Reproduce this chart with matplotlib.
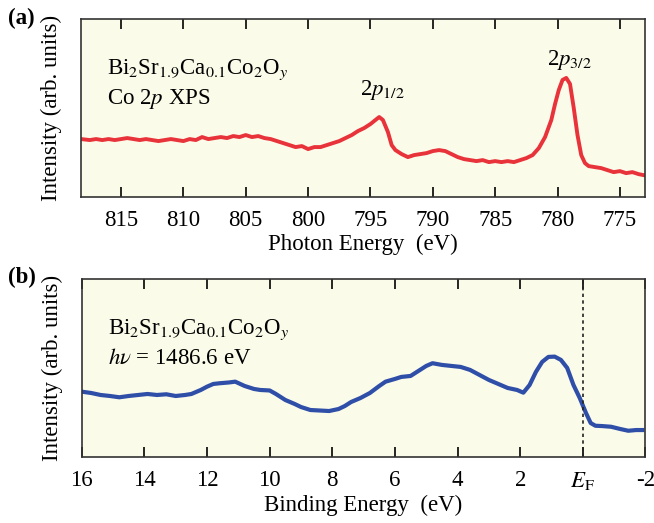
import numpy as np
import matplotlib.pyplot as plt

plt.rcParams['font.family'] = 'Liberation Serif'
plt.rcParams['mathtext.fontset'] = 'stix'
plt.rcParams['font.size'] = 16.5

# Co 2p core level, photon energy (eV) vs intensity (arb.)
co2p_energy = [818.2, 817.5, 817.0, 816.5, 816.0, 815.5, 815.0, 814.5, 814.0, 813.5,
               813.0, 812.5, 812.0, 811.5, 811.0, 810.5, 810.0, 809.5, 809.0, 808.5,
               808.0, 807.5, 807.0, 806.5, 806.0, 805.5, 805.0, 804.5, 804.0, 803.5,
               803.0, 802.5, 802.0, 801.5, 801.0, 800.5, 800.0, 799.5, 799.0, 798.5,
               798.0, 797.5, 797.0, 796.5, 796.0, 795.5, 795.0, 794.6, 794.3, 794.0,
               793.6, 793.3, 793.0, 792.5, 792.0, 791.5, 791.0, 790.5, 790.0, 789.5,
               789.0, 788.5, 788.0, 787.5, 787.0, 786.5, 786.0, 785.5, 785.0, 784.5,
               784.0, 783.5, 783.0, 782.5, 782.0, 781.5, 781.0, 780.5, 780.2, 779.9,
               779.6, 779.3, 779.0, 778.7, 778.4, 778.1, 777.8, 777.5, 777.0, 776.5,
               776.0, 775.5, 775.0, 774.5, 774.0, 773.5, 773.1]
co2p_int = [61, 60, 61, 60, 61, 60, 61, 62, 61, 60,
            61, 60, 59, 60, 61, 60, 59, 61, 60, 63,
            61, 62, 63, 62, 64, 63, 65, 63, 64, 62,
            61, 59, 57, 55, 53, 54, 51, 53, 53, 55,
            57, 59, 62, 65, 69, 72, 76, 80, 83, 80,
            68, 55, 50, 46, 43, 45, 46, 47, 49, 50,
            49, 46, 43, 41, 40, 39, 40, 38, 39, 38,
            39, 38, 40, 42, 45, 52, 63, 80, 96, 110,
            120, 122, 116, 92, 65, 45, 37, 34, 33, 32,
            30, 28, 29, 27, 28, 26, 25]

# valence band, binding energy (eV) vs intensity (arb.)
vb_energy = [16.0, 15.7, 15.4, 15.1, 14.8, 14.5, 14.2, 13.9, 13.6, 13.3,
             13.0, 12.7, 12.5, 12.2, 12.0, 11.8, 11.6, 11.3, 11.1, 10.8,
             10.5, 10.3, 10.0, 9.8, 9.5, 9.2, 9.0, 8.7, 8.4, 8.1,
             7.8, 7.6, 7.4, 7.1, 6.8, 6.5, 6.3, 6.0, 5.8, 5.5,
             5.3, 5.0, 4.8, 4.5, 4.2, 3.9, 3.6, 3.3, 3.0, 2.7,
             2.4, 2.1, 1.9, 1.7, 1.5, 1.3, 1.1, 0.9, 0.7, 0.5,
             0.3, 0.1, -0.1, -0.25, -0.4, -0.6, -0.9, -1.2, -1.45, -1.7, -1.9]
vb_int = [78.3, 77, 75, 74, 72.7, 74, 75, 76, 75, 75.7,
          74, 75, 76, 80, 83.3, 86, 86.7, 87.5, 88.3, 84,
          81, 80, 79.5, 76, 70, 66, 63, 60, 59.5, 59,
          61, 64, 68, 72, 77, 84, 88.3, 91, 93, 94,
          98, 104, 106.7, 105, 104, 103, 100, 95, 90, 86,
          82, 80, 77.3, 85, 98, 108, 113, 113.3, 110, 102,
          85, 72, 57, 47, 44.3, 44, 43.3, 41, 39.3, 40, 40]

xticks_a = [815, 810, 805, 800, 795, 790, 785, 780, 775]
xticklabels_a = [str(v) for v in xticks_a]
xticks_b = [16, 14, 12, 10, 8, 6, 4, 2, 0, -2]
xticklabels_b = ['16', '14', '12', '10', '8', '6', '4', '2', r'$E_{\rm F}$', '-2']

bg = '#fbfbea'
fig = plt.figure(figsize=(6.54, 5.23), dpi=100)
ax1 = fig.add_axes([0.124, 0.623, 0.862, 0.341], facecolor=bg)
ax2 = fig.add_axes([0.125, 0.126, 0.862, 0.341], facecolor=bg)

ax1.plot(co2p_energy, co2p_int, color='#e8333b', lw=2.8, solid_joinstyle='round')
ax1.set_xlim(818.2, 773.0)
ax1.set_ylim(3, 181)
ax1.set_xticks(xticks_a)
ax1.set_xticklabels(xticklabels_a)
ax1.set_xlabel('Photon Energy  (eV)', labelpad=2)
ax1.set_ylabel('Intensity (arb. units)')
ax1.text(0.046, 0.69, r'Bi$_2$Sr$_{1.9}$Ca$_{0.1}$Co$_2$O$_y$', transform=ax1.transAxes)
ax1.text(0.046, 0.52, r'Co 2$p$ XPS', transform=ax1.transAxes)
ax1.text(794.0, 98, r'2$p_{1/2}$', ha='center', va='bottom')
ax1.text(779.0, 128, r'2$p_{3/2}$', ha='center', va='bottom')
fig.text(0.012, 0.955, '(a)', fontweight='bold')

ax2.plot(vb_energy, vb_int, color='#2f4ea8', lw=3.0, solid_joinstyle='round')
ax2.axvline(0, color='#222222', lw=1.2, ls=(0, (2, 2)))
ax2.set_xlim(16, -2)
ax2.set_ylim(13, 191)
ax2.set_xticks(xticks_b)
ax2.set_xticklabels(xticklabels_b)
ax2.set_xlabel('Binding Energy  (eV)', labelpad=2)
ax2.set_ylabel('Intensity (arb. units)')
ax2.text(0.046, 0.69, r'Bi$_2$Sr$_{1.9}$Ca$_{0.1}$Co$_2$O$_y$', transform=ax2.transAxes)
ax2.text(0.046, 0.52, r'$h\nu$ = 1486.6 eV', transform=ax2.transAxes)
fig.text(0.012, 0.458, '(b)', fontweight='bold')

for ax in (ax1, ax2):
    ax.set_yticks([])
    ax.yaxis.set_label_coords(-0.034, 0.5)
    ax.tick_params(axis='x', direction='in', top=True, length=7, width=1.2, pad=9)
    for s in ax.spines.values():
        s.set_linewidth(1.2)
        s.set_color('#333333')

fig.savefig('out.png', dpi=100)
